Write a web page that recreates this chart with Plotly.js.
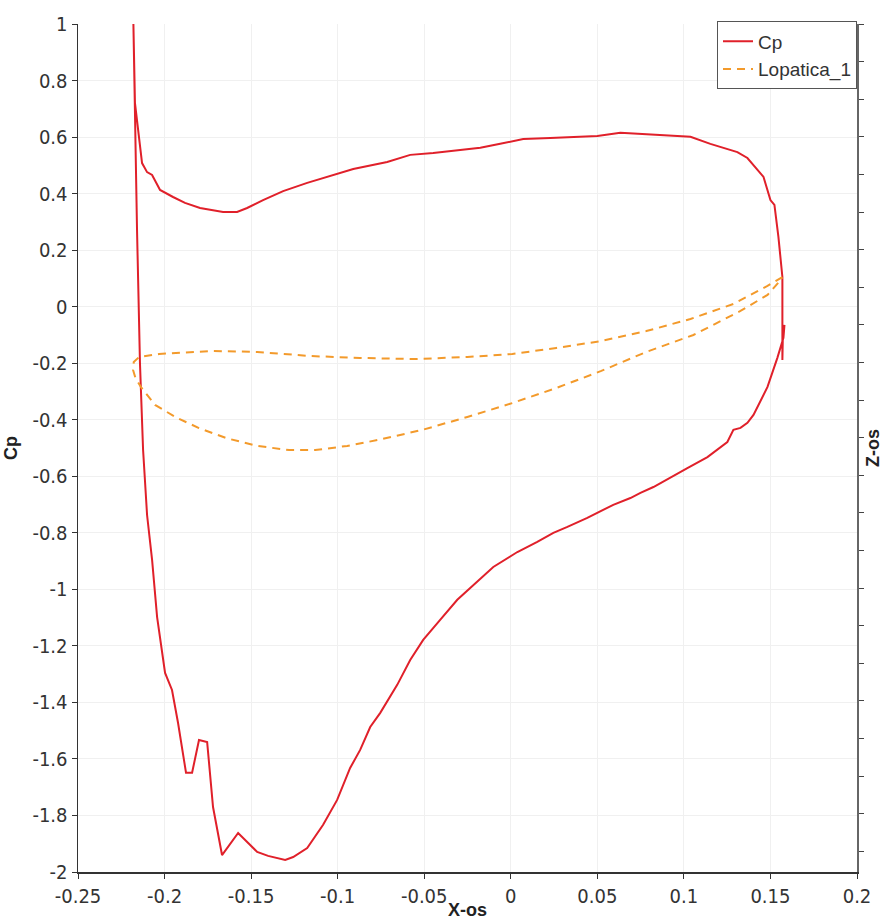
<!DOCTYPE html>
<html>
<head>
<meta charset="utf-8">
<script src="https://cdn.plot.ly/plotly-3.0.1.min.js"></script>
<style>
html,body{margin:0;padding:0;background:#fff;}
#chart{width:883px;height:920px;}
</style>
</head>
<body>
<div id="chart"></div>
<script>
// Cp along blade surface (upper side, trailing edge, lower side)
const cpX = [-0.218,-0.2171,-0.2130,-0.2101,-0.2072,-0.2026,-0.1951,-0.1882,-0.1795,-0.1737,-0.1662,-0.1581,-0.1523,-0.1431,-0.1315,-0.1176,-0.1061,-0.0910,-0.0714,-0.0581,-0.0448,-0.0332,-0.0176,-0.0061,0.0072,0.0228,0.0500,0.0633,0.0731,0.0864,0.1038,0.1153,0.1309,0.1367,0.1460,0.1500,0.1523,0.1546,0.1569,0.1569,0.1569,0.1572,0.1581,0.1575,
  0.1540,0.1483,0.1402,0.1367,0.1327,0.1286,0.1251,0.1136,0.1020,0.0922,0.0824,0.0749,0.0691,0.0592,0.0442,0.0327,0.0246,0.0153,0.0038,-0.0101,-0.0194,-0.0309,-0.0408,-0.0506,-0.0581,-0.0656,-0.0754,-0.0812,-0.0870,-0.0928,-0.1003,-0.1084,-0.1176,-0.1257,-0.1303,-0.1402,-0.1465,-0.1575,-0.1668,-0.1720,-0.1754,-0.1801,-0.1841,-0.1876,-0.1922,-0.1957,-0.1997,-0.2026,-0.2043,-0.2072,-0.2101,-0.2124,-0.2142,-0.2159,-0.218];
const cpY = [1.0,0.721,0.508,0.476,0.466,0.413,0.388,0.367,0.349,0.342,0.335,0.335,0.349,0.377,0.409,0.438,0.459,0.487,0.512,0.537,0.544,0.551,0.562,0.576,0.593,0.597,0.604,0.615,0.611,0.607,0.601,0.576,0.547,0.526,0.459,0.377,0.360,0.247,0.105,-0.072,-0.189,-0.095,-0.065,-0.110,
  -0.181,-0.284,-0.383,-0.411,-0.429,-0.436,-0.479,-0.532,-0.571,-0.606,-0.638,-0.659,-0.677,-0.701,-0.747,-0.779,-0.800,-0.832,-0.868,-0.921,-0.974,-1.037,-1.108,-1.179,-1.250,-1.338,-1.437,-1.487,-1.568,-1.632,-1.745,-1.833,-1.915,-1.947,-1.957,-1.943,-1.929,-1.862,-1.940,-1.770,-1.540,-1.533,-1.649,-1.649,-1.473,-1.356,-1.296,-1.179,-1.098,-0.896,-0.737,-0.507,-0.200,0.271,1.0];

// Blade profile (Lopatica_1), Z coordinate on right axis
const bladeX = [0.1569,0.1483,0.1286,0.1038,0.0783,0.0523,0.0263,0.0009,-0.0251,-0.0558,-0.0870,-0.1153,-0.1465,-0.1720,-0.2032,-0.2147,-0.2178,-0.2182,-0.2168,-0.2136,
  -0.2055,-0.1928,-0.1801,-0.1645,-0.1465,-0.1280,-0.1130,-0.0945,-0.0766,-0.0512,-0.0251,0.0009,0.0263,0.0523,0.0783,0.1055,0.1327,0.1483,0.1569];
const bladeZ = [0.0654,0.0607,0.0511,0.0431,0.0367,0.0314,0.0277,0.0245,0.0229,0.0218,0.0224,0.0234,0.0256,0.0261,0.0245,0.0229,0.0202,0.0160,0.0117,0.0069,
  -0.0026,-0.0095,-0.0149,-0.0202,-0.0244,-0.0266,-0.0266,-0.0244,-0.0212,-0.0159,-0.0090,-0.0016,0.0064,0.0155,0.0256,0.0346,0.0474,0.0559,0.0649];

const xTickVals = [-0.25,-0.2,-0.15,-0.1,-0.05,0,0.05,0.1,0.15,0.2];
const xTickText = ["-0.25","-0.2","-0.15","-0.1","-0.05","0","0.05","0.1","0.15","0.2"];
const yTickVals = [1,0.8,0.6,0.4,0.2,0,-0.2,-0.4,-0.6,-0.8,-1,-1.2,-1.4,-1.6,-1.8,-2];
const yTickText = ["1","0.8","0.6","0.4","0.2","0","-0.2","-0.4","-0.6","-0.8","-1","-1.2","-1.4","-1.6","-1.8","-2"];
const seriesNames = ["Cp","Lopatica_1"];

const tickFont = {family:"Liberation Sans Narrow, DejaVu Sans Condensed, Liberation Sans, sans-serif", size:20, color:"#333"};
const titleFont = {family:"Liberation Sans, Arial, sans-serif", size:18, color:"#222", weight:"bold"};

const traces = [
  {x:cpX, y:cpY, name:seriesNames[0], type:"scatter", mode:"lines",
   line:{color:"#e0202a", width:2}, xaxis:"x", yaxis:"y"},
  {x:bladeX, y:bladeZ, name:seriesNames[1], type:"scatter", mode:"lines",
   line:{color:"#f39a2b", width:2, dash:"8px,6px"}, xaxis:"x", yaxis:"y2"}
];

const layout = {
  width:883, height:920,
  margin:{l:78, r:26, t:24, b:48},
  paper_bgcolor:"#fff", plot_bgcolor:"#fff",
  showlegend:true,
  legend:{x:1, xanchor:"right", y:1.003, yanchor:"top", bgcolor:"#fff",
          bordercolor:"#555", borderwidth:1,
          font:{family:"Liberation Sans, Arial, sans-serif", size:19, color:"#333"},
          tracegroupgap:0},
  xaxis:{range:[-0.25,0.2], tickvals:xTickVals, ticktext:xTickText,
         ticks:"outside", ticklen:5, tickcolor:"#333", showline:true, linecolor:"#333", linewidth:1.5,
         showgrid:true, gridcolor:"#f0f0f0", gridwidth:1, zeroline:false,
         tickfont:tickFont, automargin:false,
         title:{text:"X-os", font:titleFont, standoff:4}},
  yaxis:{range:[-2,1], tickvals:yTickVals, ticktext:yTickText,
         ticks:"outside", ticklen:5, tickcolor:"#333", showline:true, linecolor:"#333", linewidth:1.5,
         showgrid:true, gridcolor:"#f0f0f0", gridwidth:1, zeroline:false,
         tickfont:tickFont, automargin:false,
         title:{text:"Cp", font:titleFont, standoff:10}},
  yaxis2:{overlaying:"y", side:"right", range:[-0.251,0.2], dtick:0.02, tick0:0,
          showticklabels:false, ticks:"outside", ticklen:5, tickcolor:"#444",
          showline:true, linecolor:"#666", linewidth:1.5, showgrid:false, zeroline:false,
          automargin:false,
          title:{text:"Z-os", font:titleFont, standoff:6}}
};

Plotly.newPlot("chart", traces, layout, {displayModeBar:false, staticPlot:true});
</script>
</body>
</html>
